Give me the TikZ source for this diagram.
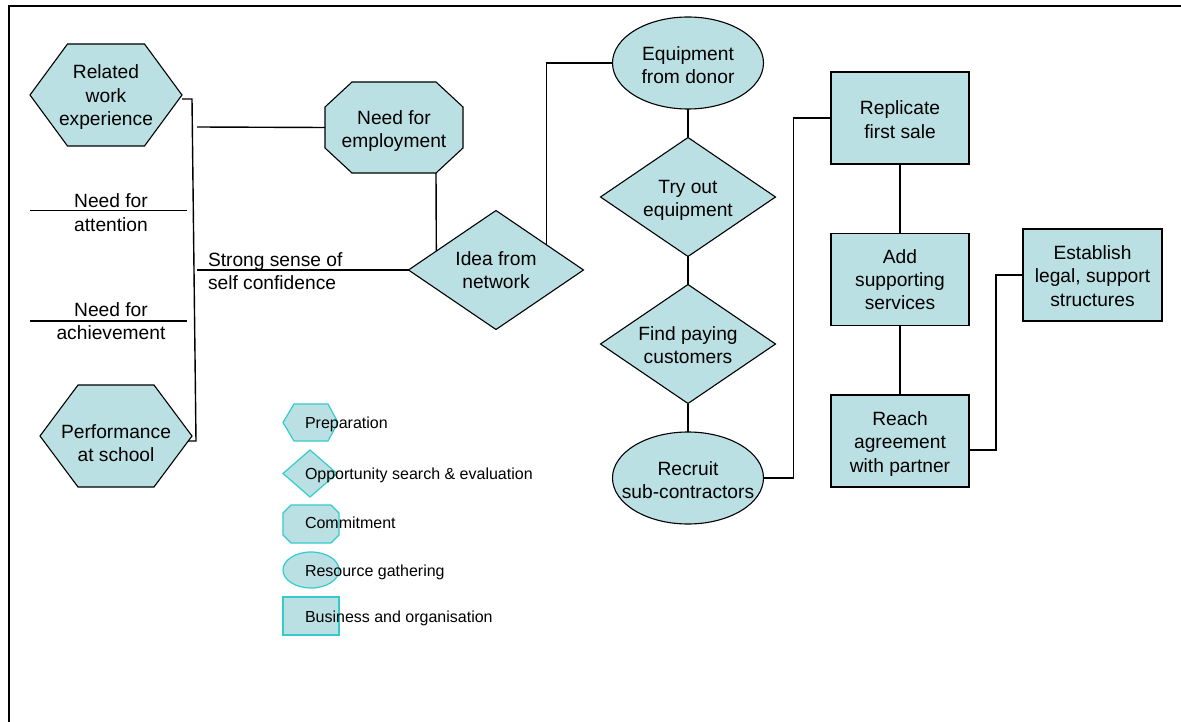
\documentclass[tikz,border=0pt]{standalone}
\usepackage{fontspec}
\setmainfont{Liberation Sans}
\usetikzlibrary{shapes.geometric,calc,backgrounds}
\definecolor{shapefill}{RGB}{187,224,227}
\definecolor{keyline}{RGB}{51,204,204}

% hexagon outline around a rectangular node: #1 node, #2 horizontal inset of the points
\newcommand\hexout[2]{%
  \filldraw[shapeline] ($(#1.north west)+(#2,0)$) -- ($(#1.north east)+(-#2,0)$) -- (#1.east)
    -- ($(#1.south east)+(-#2,0)$) -- ($(#1.south west)+(#2,0)$) -- (#1.west) -- cycle;}
% octagon outline around a rectangular node: #1 node, #2 x cut, #3 y cut
\newcommand\octout[3]{%
  \filldraw[shapeline] ($(#1.north west)+(#2,0)$) -- ($(#1.north east)+(-#2,0)$)
    -- ($(#1.north east)+(0,#3)$) -- ($(#1.south east)+(0,-#3)$)
    -- ($(#1.south east)+(-#2,0)$) -- ($(#1.south west)+(#2,0)$)
    -- ($(#1.south west)+(0,-#3)$) -- ($(#1.north west)+(0,#3)$) -- cycle;}

\begin{document}
\begin{tikzpicture}[x=1pt,y=-1pt,
  every node/.style={inner sep=0pt,outer sep=0pt},
  big/.style={font=\fontsize{19.2pt}{23.3pt}\selectfont,align=center},
  small/.style={font=\fontsize{16pt}{19pt}\selectfont},
  shapeline/.style={draw=black,line width=1.1pt,fill=shapefill},
  keyshape/.style={draw=keyline,line width=1.2pt,fill=shapefill},
  link/.style={draw=black,line width=1.4pt},
  polybox/.style={big,minimum width=#1},
  textbox/.style 2 args={text height=#1,text depth=#2},
  decision/.style={big,shape=diamond,shape aspect=1.47,shapeline,minimum width=175pt,minimum height=119pt},
  resource/.style={big,shape=ellipse,shapeline,minimum width=151pt,minimum height=92pt,inner xsep=-25pt},
  business/.style={big,shape=rectangle,shapeline,minimum width=138pt,minimum height=92pt}
]
\useasboundingbox (0,0) rectangle (1181,722);

% page frame
\draw[line width=2pt] (8.5,722) -- (8.5,6.5) -- (1181,6.5);

% preparation and commitment nodes (outlines drawn behind)
\node[polybox=152pt,minimum height=102pt,textbox={65pt}{4pt}] (rel) at (106,95) {Related\\work\\experience};
\node[polybox=152pt,minimum height=102pt,textbox={51pt}{0pt}] (perf) at (116,436) {Performance\\at school};
\node[polybox=138pt,minimum height=91pt,textbox={44.5pt}{4pt}] (emp) at (394,127.5) {Need for\\employment};
\begin{scope}[on background layer]
  \fill[white] (0,0) rectangle (1181,722);
  \hexout{rel}{37.5}
  \hexout{perf}{38}
  \octout{emp}{27}{25}
\end{scope}

% personal traits
\node[big] (att) at (111,212.5) {Need for\\attention};
\node[big] (ach) at (111,321) {Need for\\achievement};
\node[big,align=left,anchor=west] (conf) at (208,271) {Strong sense of\\self confidence};
\draw[link] (30,210.7) -- (187,210.7);
\draw[link] (30,321) -- (187,321);

% opportunity and resources column
\node[decision] (idea) at (496,270) {Idea from\\network};
\node[resource,textbox={41pt}{0pt}] (equip) at (688,63) {Equipment\\from donor};
\node[decision,textbox={43pt}{4pt}] (try) at (688,197) {Try out\\equipment};
\node[decision,textbox={39.5pt}{0pt}] (find) at (688,344) {Find paying\\customers};
\node[resource,textbox={41pt}{0pt}] (recruit) at (688,478) {Recruit\\sub-contractors};

% business column
\node[business,textbox={40.5pt}{0pt}] (rep) at (900,118) {Replicate\\first sale};
\node[business] (add) at (900,279.5) {Add\\supporting\\services};
\node[business,textbox={66.5pt}{4pt}] (reach) at (900,441) {Reach\\agreement\\with partner};
\node[business,minimum width=139pt,textbox={62.5pt}{0pt}] (est) at (1092.5,275) {Establish\\legal, support\\structures};

% connectors
\coordinate (relend) at (197,127);
\coordinate (confend) at (197,270);
\draw[link] ([yshift=-4pt]rel.east) -- ++(10,0) -- ($(perf.east)+(4,5)$) -- ($(perf.east)+(-4,5)$);
\draw[link] (relend) -- (emp.west);
\draw[link] (confend) -- (idea.west);
\draw[link] ($(emp.south east)+(-27,0)$) -- ($(idea.west)!0.318!(idea.north)$);
\draw[link] (equip.west) -| ($(idea.north)!0.575!(idea.east)$);
\draw[link] (equip.south) -- (try.north);
\draw[link] (try.south) -- (find.north);
\draw[link] (find.south) -- (recruit.north);
\draw[link] (recruit.east) -- ++(30,0) |- (rep.west);
\draw[link] (rep.south) -- (add.north);
\draw[link] (add.south) -- (reach.north);
\draw[link] ($(reach.east)+(0,9)$) -- ++(27,0) |- (est.west);

% key
\filldraw[keyshape] (283,422.5) -- (294,404) -- (328,404) -- (338,422.5) -- (328,441) -- (294,441) -- cycle;
\filldraw[keyshape] (283,473.5) -- (310,450) -- (337,473.5) -- (310,497) -- cycle;
\filldraw[keyshape] (283,513) -- (291,505) -- (331,505) -- (339,513) -- (339,535) -- (331,543) -- (291,543) -- (283,535) -- cycle;
\filldraw[keyshape] (311,570) ellipse [x radius=28,y radius=18];
\filldraw[keyshape] (283,597) rectangle (339,635);
\node[small,anchor=base west] (kprep) at (305,428) {Preparation};
\node[small,anchor=base west] (kopp) at (305,479) {Opportunity search \& evaluation};
\node[small,anchor=base west] (kcom) at (305,528.5) {Commitment};
\node[small,anchor=base west] (kres) at (305,576.5) {Resource gathering};
\node[small,anchor=base west] (kbus) at (305,622.5) {Business and organisation};
\end{tikzpicture}
\end{document}
